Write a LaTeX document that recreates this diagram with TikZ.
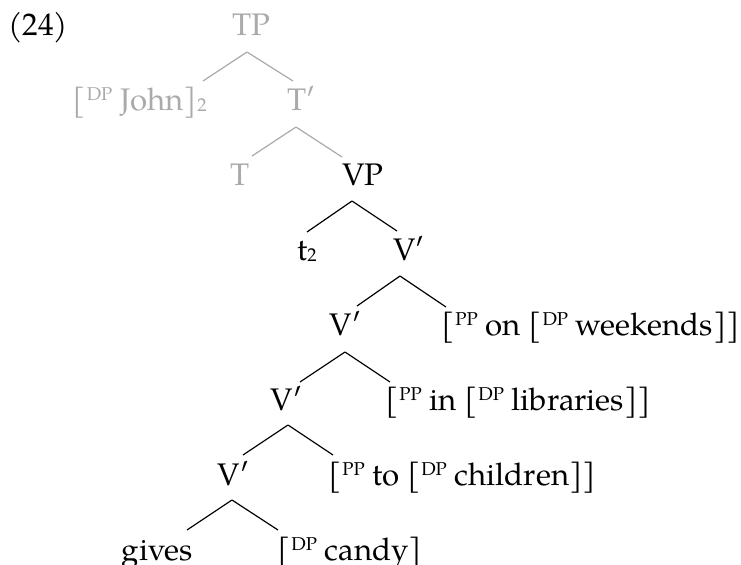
\documentclass[tikz,border=0pt]{standalone}
\usepackage{fontspec}
\setmainfont{texgyrepagella-regular.otf}
\usetikzlibrary{calc}
\definecolor{faded}{RGB}{170,170,170}
\newcommand{\cat}[1]{\kern0.3pt\raisebox{5pt}{\fontsize{9.3}{10}\selectfont #1}}
\newcommand{\idx}[1]{\raisebox{-0.8pt}{\fontsize{9.3}{10}\selectfont #1}}
\begin{document}
\begin{tikzpicture}[x=0.5pt,y=-0.5pt,
  lbl/.style={inner sep=0pt, font=\fontsize{15.6}{18}\selectfont},
  fadedlbl/.style={lbl, text=faded},
  branch/.style={line width=0.6pt, black},
  fadedbranch/.style={line width=0.6pt, faded}]
\useasboundingbox (0,0) rectangle (741,564);
% nodes
\node[lbl, anchor=base west] (num) at (8,35) {(24)};
\node[fadedlbl, anchor=base] (tp) at (251,35) {TP};
\node[fadedlbl, anchor=base east] (john) at (207,110) {[\cat{DP} John]\idx{2}};
\node[fadedlbl, anchor=base west] (tbar) at (287,110) {T′};
\node[fadedlbl, anchor=base east] (t) at (250,185) {T};
\node[lbl, anchor=base west] (vp) at (342,185) {VP};
\node[lbl, anchor=base east] (trace) at (317,260) {t\idx{2}};
\node[lbl, anchor=base west] (v3) at (393,260) {V′};
\node[lbl, anchor=base east] (v4) at (362,335) {V′};
\node[lbl, anchor=base west] (pp1) at (441,335) {[\cat{PP} on [\cat{DP} weekends]]};
\node[lbl, anchor=base east] (v5) at (303,410) {V′};
\node[lbl, anchor=base west] (pp2) at (385,410) {[\cat{PP} in [\cat{DP} libraries]]};
\node[lbl, anchor=base east] (v6) at (250,485) {V′};
\node[lbl, anchor=base west] (pp3) at (328,485) {[\cat{PP} to [\cat{DP} children]]};
\node[lbl, anchor=base east] (gives) at (193,560) {gives};
\node[lbl, anchor=base west] (candy) at (277,560) {[\cat{DP} candy]};
% branches
\draw[fadedbranch] ($(tp.base)+(-4,17)$) -- ($(john.base east)+(-4,-29)$);
\draw[fadedbranch] ($(tp.base)+(-4,17)$) -- ($(tbar.base west)+(6,-29)$);
\draw[fadedbranch] ($(tbar.base west)+(9,17)$) -- ($(t.base east)+(2,-29)$);
\draw[fadedbranch] ($(tbar.base west)+(9,17)$) -- ($(vp.base west)+(0,-28)$);
\draw[branch] ($(vp.base west)+(10,16)$) -- ($(trace.base east)+(-10,-28)$);
\draw[branch] ($(vp.base west)+(10,16)$) -- ($(v3.base west)+(4,-29)$);
\draw[branch] ($(v3.base west)+(7,16)$) -- ($(v4.base east)+(-5,-29)$);
\draw[branch] ($(v3.base west)+(7,16)$) -- ($(pp1.base west)+(5,-28)$);
\draw[branch] ($(v4.base east)+(-17,17)$) -- ($(v5.base east)+(-3,-28)$);
\draw[branch] ($(v4.base east)+(-17,17)$) -- ($(pp2.base west)+(5,-28)$);
\draw[branch] ($(v5.base east)+(-15,15)$) -- ($(v6.base east)+(-7,-30)$);
\draw[branch] ($(v5.base east)+(-15,15)$) -- ($(pp3.base west)+(5,-30)$);
\draw[branch] ($(v6.base east)+(-18,15)$) -- ($(gives.base east)+(-6,-30)$);
\draw[branch] ($(v6.base east)+(-18,15)$) -- ($(candy.base west)+(1,-30)$);
\end{tikzpicture}
\end{document}
